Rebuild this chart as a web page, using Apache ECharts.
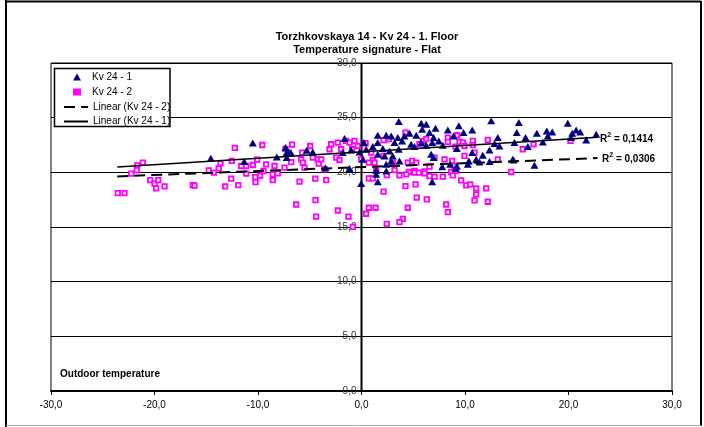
<!DOCTYPE html>
<html><head><meta charset="utf-8">
<script src="https://cdn.jsdelivr.net/npm/echarts@6/dist/echarts.min.js"></script>
<style>html,body{margin:0;padding:0;background:#fff}#c{width:704px;height:427px}</style>
</head><body><div id="c"></div>
<script>
const titleText = ['Torzhkovskaya 14 - Kv 24 - 1. Floor', 'Temperature signature - Flat'];
const xAxisName = 'Outdoor temperature';
const seriesNames = ['Kv 24 - 1', 'Kv 24 - 2', 'Linear (Kv 24 - 2)', 'Linear (Kv 24 - 1)'];
const r2Labels = ['0,1414', '0,0306'];

// Kv 24 - 1 (navy triangles): [outdoor temp, indoor temp]
const kv1 = [
[-14.56,21.28],[-11.33,20.98],[-10.5,22.69],
[-8.18,21.40],[-7.34,22.27],[-7.28,21.72],[-7.02,21.86],[-6.83,21.81],[-7.22,21.35],[-5.29,22.02],[-4.71,21.86],[-3.48,20.43],[-1.64,23.09],[-1.81,21.81],[-1.00,22.05],[-1.16,20.34],[-0.03,18.99],[0.22,22.72],[-0.19,21.86],
[3.60,24.65],[5.77,24.50],[6.25,24.40],[5.86,23.94],[4.64,23.58],[5.29,23.39],[6.57,23.64],[4.15,23.33],[3.51,23.18],[2.87,23.33],[2.39,23.39],[3.19,22.72],[3.93,22.87],[4.80,22.57],[5.12,22.36],[5.77,22.72],[6.25,22.48],[6.83,22.72],[1.57,22.72],[1.09,22.36],[2.06,22.17],[2.71,21.95],[3.60,22.11],[3.02,21.50],[2.22,21.50],[1.57,21.65],[2.87,21.04],[2.39,20.73],[3.67,21.04],[6.73,21.65],[1.42,20.18],[0.13,21.19],[0.45,22.11],[1.57,23.39],
[1.57,19.15],[6.83,19.15],[2.39,20.12],[1.42,19.82],
[12.53,24.71],[9.40,24.25],[10.70,23.88],[9.86,23.64],[8.34,23.88],[7.15,24.04],[8.89,23.33],[6.96,23.18],[7.47,22.87],[7.86,22.48],[9.21,22.17],[13.17,23.18],[12.85,22.63],[13.33,22.41],[12.37,22.05],[10.70,21.81],[11.72,21.56],[11.08,21.19],[10.37,21.04],[11.40,20.94],[12.37,20.98],[8.57,20.73],[9.21,20.58],[7.80,20.52],[10.27,20.73],[14.62,21.19],[6.96,21.35],[9.08,20.34],
[15.20,24.56],[19.93,24.50],[15.0,23.64],[16.94,23.58],[17.90,23.79],[18.43,23.70],[20.74,23.88],[21.13,23.70],[20.36,23.58],[15.85,23.18],[18.0,23.33],[20.26,23.18],[22.68,23.49],[21.71,22.96],[17.52,22.78],[14.78,22.72],[16.07,22.36],[14.69,21.13],[16.71,20.64]
];

// Kv 24 - 2 (magenta squares)
const kv2 = [
[-23.55,18.10],[-22.9,18.10],[-22.25,19.88],[-21.67,20.64],[-21.71,20.21],[-21.13,20.89],[-20.42,19.29],[-20.0,18.96],[-19.84,18.53],[-19.64,19.29],[-19.03,18.72],[-16.3,18.83],[-16.14,18.78],[-14.75,20.18],[-14.27,19.97],[-13.79,20.37],[-13.62,20.83],[-13.17,18.72],[-12.59,19.42],[-12.53,21.04],[-12.24,22.23],[-11.91,18.83],[-11.62,20.58],[-11.14,20.58],[-11.14,19.88],[-10.5,20.67],[-10.27,19.57],[-10.24,19.11],[-10.08,21.17],[-9.79,19.70],[-9.59,22.50],[-9.47,20.12],[-9.21,20.73],
[-8.57,19.82],[-8.57,19.29],[-8.09,19.91],[-8.41,20.58],[-7.44,20.43],[-6.79,20.94],[-6.70,22.54],[-5.99,19.15],[-6.31,17.06],[-5.83,21.19],[-5.67,20.89],[-5.51,20.43],[-4.96,22.41],[-4.71,21.35],[-4.47,19.42],[-4.44,17.46],[-4.38,15.94],[-4.22,21.19],[-4.13,20.80],[-3.89,21.19],[-3.57,20.28],[-3.41,19.29],[-3.09,22.11],[-2.93,22.57],[-2.44,21.35],[-2.29,22.72],[-2.29,16.51],[-2.13,21.13],[-1.96,22.11],[-1.48,22.87],[-1.26,15.94],[-1.16,22.72],[-0.90,22.11],[-0.68,22.87],[-0.36,22.41],[-0.03,21.19],[-0.84,15.02],[-7.34,22.15],[-5.73,21.81],
[4.25,23.64],[2.64,23.03],[2.13,22.94],[0.39,22.66],[0.94,21.81],[2.13,21.50],[1.09,21.13],[1.26,20.89],[0.71,20.89],[3.02,20.89],[4.47,20.89],[4.90,21.04],[5.29,20.89],[4.57,20.03],[3.19,20.21],[5.92,22.87],[6.25,23.03],[5.60,22.57],[6.57,20.52],[6.09,20.09],[5.12,20.12],
[1.42,20.18],[0.71,19.45],[1.09,19.45],[2.44,19.75],[3.67,19.72],[4.32,19.82],[5.12,19.97],[5.54,19.97],[6.09,19.91],[6.57,19.66],[5.22,18.90],[4.25,18.74],[2.13,18.23],[5.34,17.68],[6.31,17.52],[0.71,16.76],[1.35,16.76],[0.45,16.21],[4.47,16.76],[3.99,15.75],[3.67,15.44],[2.44,15.29],
[8.34,23.18],[8.34,22.78],[9.25,23.39],[9.47,22.78],[9.79,22.72],[10.75,22.87],[10.75,22.48],[12.20,22.96],[9.08,22.36],[9.95,22.41],[10.92,21.81],[9.95,21.50],[7.05,21.35],[8.02,21.19],[8.76,21.04],[13.17,21.19],[8.99,20.58],[8.67,20.03],[9.15,20.12],[8.82,19.72],[7.05,19.61],[7.86,19.61],[9.63,19.27],[10.12,18.81],[10.50,18.90],[11.08,18.53],[12.05,18.53],[11.08,17.98],[10.92,17.43],[12.20,17.31],[8.18,17.06],[8.34,16.36],[14.46,20.03],
[16.62,22.57],[15.58,22.11],[20.19,22.87]
];

// Linear trend lines (endpoints)
const trend1 = [[-23.6, 20.48], [22.8, 23.2]];
const trend2 = [[-23.6, 19.63], [22.8, 21.3]];

const xMin = -30, xMax = 30, xStep = 10;
const yMin = 0, yMax = 30, yStep = 5;
// vertical axis line crossing at outdoor temperature 0
const zeroAxis = [[0, yMin], [0, yMax]];

const FONT = 'Liberation Sans, Arial, sans-serif';
const fmt = v => v.toFixed(1).replace('.', ',');

const GRID = {left: 51, top: 63, width: 621, height: 328};
const hidden = {color: 'rgba(0,0,0,0)', borderColor: 'rgba(0,0,0,0)', opacity: 0};
const legText = {fontFamily: FONT, fontSize: 10, color: '#000'};
const r2Rich = {a: {font: 'bold 10px ' + FONT, fill: '#000', lineHeight: 14}, s: {font: 'bold 7px ' + FONT, fill: '#000', verticalAlign: 'top', lineHeight: 14}};

const chart = echarts.init(document.getElementById('c'), null, {renderer: 'canvas'});
chart.setOption({
  animation: false,
  backgroundColor: '#fff',
  textStyle: {fontFamily: FONT},
  title: {
    text: titleText.join('\n'),
    left: 362, top: 25, textAlign: 'center',
    textStyle: {fontFamily: FONT, fontSize: 11, fontWeight: 'bold', color: '#000', lineHeight: 13}
  },
  grid: Object.assign({show: true, borderColor: '#000', borderWidth: 1, backgroundColor: 'transparent'}, GRID),
  legend: [
    {
      orient: 'vertical', left: 73, top: 72, z: 101, padding: 0,
      itemGap: 5, itemWidth: 8, itemHeight: 7,
      textStyle: Object.assign({padding: [0, 0, 0, 6]}, legText),
      data: [
        {name: seriesNames[0], icon: 'triangle'},
        {name: seriesNames[1], icon: 'rect', itemStyle: {color: '#ff00ff', borderColor: '#ff00ff', borderWidth: 0}}
      ]
    },
    {
      orient: 'vertical', left: 63, top: 102, z: 101, padding: 0,
      itemGap: 4.5, itemWidth: 24, itemHeight: 8,
      textStyle: legText,
      data: [
        {name: seriesNames[2], itemStyle: hidden},
        {name: seriesNames[3], itemStyle: hidden}
      ]
    }
  ],
  xAxis: {
    type: 'value', min: xMin, max: xMax, interval: xStep,
    axisLine: {show: true, onZero: false, lineStyle: {color: '#000', width: 2}},
    axisTick: {show: true, length: 4, lineStyle: {color: '#000'}},
    axisLabel: {fontFamily: FONT, fontSize: 10, color: '#000', margin: 9, formatter: fmt},
    splitLine: {show: false}
  },
  yAxis: {
    type: 'value', min: yMin, max: yMax, interval: yStep,
    offset: -GRID.width / 2,
    axisLine: {show: false},
    axisTick: {show: false},
    axisLabel: {fontFamily: FONT, fontSize: 10, color: '#333', margin: 5, formatter: fmt},
    splitLine: {show: true, lineStyle: {color: '#000', width: 1}}
  },
  graphic: [
    {type: 'line', shape: {x1: 6, y1: 0, x2: 6, y2: 427}, style: {stroke: '#000', lineWidth: 2}},
    {type: 'line', shape: {x1: 5, y1: 1.5, x2: 701, y2: 1.5}, style: {stroke: '#000', lineWidth: 2}},
    {type: 'line', shape: {x1: 701, y1: 1, x2: 701, y2: 426}, style: {stroke: '#000', lineWidth: 2}},
    {type: 'line', shape: {x1: 6, y1: 425.5, x2: 701, y2: 425.5}, style: {stroke: '#aaa', lineWidth: 1}},
    {type: 'rect', z: 100, shape: {x: 54.5, y: 68.5, width: 115.5, height: 58}, style: {fill: '#fff', stroke: '#000', lineWidth: 1.5}},
    {type: 'text', left: 60, top: 369, style: {text: xAxisName, font: 'bold 10px ' + FONT, fill: '#000'}},
    {type: 'text', left: 600, top: 132, style: {text: '{a|R}{s|2}{a| = ' + r2Labels[0] + '}', rich: r2Rich}},
    {type: 'text', left: 602, top: 152, style: {text: '{a|R}{s|2}{a| = ' + r2Labels[1] + '}', rich: r2Rich}}
  ],
  series: [
    {name: 'zero axis', type: 'line', data: zeroAxis, symbol: 'none', z: 1, silent: true, clip: false,
     itemStyle: {color: '#000'}, lineStyle: {color: '#000', width: 2}},
    {name: seriesNames[1], type: 'scatter', data: kv2, symbol: 'rect', symbolSize: 4.5,
     itemStyle: {color: '#fff', borderColor: '#ff00ff', borderWidth: 1.8, opacity: 1}, z: 2},
    {name: seriesNames[0], type: 'scatter', data: kv1, symbol: 'triangle', symbolSize: [8, 7],
     itemStyle: {color: '#000080', opacity: 1}, z: 3},
    {name: seriesNames[2], type: 'line', data: trend2, symbol: 'none', z: 4,
     itemStyle: {color: '#000'}, lineStyle: {color: '#000', width: 2, type: [11, 6]}},
    {name: seriesNames[3], type: 'line', data: trend1, symbol: 'none', z: 4,
     itemStyle: {color: '#000'}, lineStyle: {color: '#000', width: 1.5}}
  ]
});
</script></body></html>
